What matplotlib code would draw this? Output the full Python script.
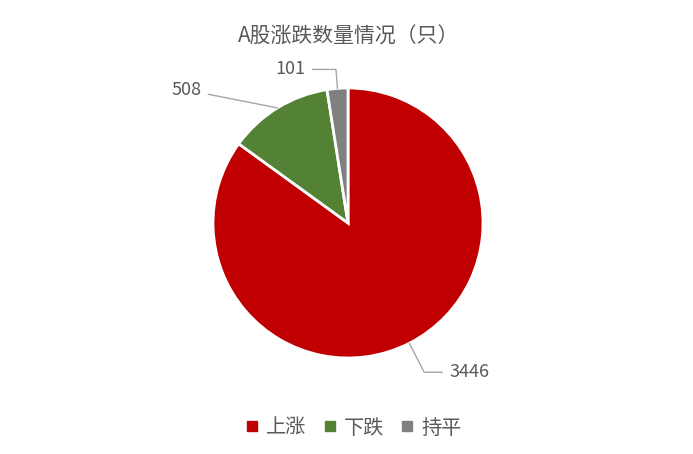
import matplotlib
matplotlib.use("Agg")
import matplotlib.pyplot as plt
import numpy as np

plt.rcParams['font.family'] = ['Noto Sans CJK SC', 'DejaVu Sans']

title = "A股涨跌数量情况（只）"
categories = ["上涨", "下跌", "持平"]
counts = [3446, 508, 101]
colors = ["#C00000", "#548235", "#808080"]

# label offsets in pixels from the wedge edge point, and leader style
label_offsets = [(40, -29), (-76, 18), (-32, 19)]
label_conn = ["angle,angleA=0,angleB={}", "arc3,rad=0", "angle,angleA=0,angleB={}"]
label_ha = ["left", "right", "right"]

W, H = 693, 454
fig = plt.figure(figsize=(W / 100, H / 100), dpi=100)
# pie centre (348, 223) px, radius 135 px
cx, cy, r = 348, 223, 135
ax = fig.add_axes([(cx - r) / W, (H - cy - r) / H, 2 * r / W, 2 * r / H])

wedges, _ = ax.pie(counts, colors=colors, startangle=90, counterclock=False,
                   radius=1, wedgeprops=dict(edgecolor="white", linewidth=2))
ax.set_xlim(-1, 1)
ax.set_ylim(-1, 1)
ax.set_aspect("equal")
ax.axis("off")

for w, n, off, conn, ha in zip(wedges, counts, label_offsets, label_conn, label_ha):
    mid = np.deg2rad((w.theta1 + w.theta2) / 2)
    x, y = np.cos(mid), np.sin(mid)
    cs = conn.format(np.rad2deg(mid)) if "{}" in conn else conn
    ax.annotate(str(n), xy=(x, y), xytext=off, textcoords="offset pixels",
                ha=ha, va="center", fontsize=13, color="#595959",
                arrowprops=dict(arrowstyle="-", color="#A6A6A6", lw=1,
                                connectionstyle=cs, shrinkA=3, shrinkB=0))

fig.text(349 / W, 1 - 37 / H, title, ha="center", va="center", fontsize=15, color="#595959")

handles = [plt.Line2D([], [], marker="s", linestyle="none", markersize=7,
                      markerfacecolor=c, markeredgecolor=c) for c in colors]
fig.legend(handles, categories, loc="center", bbox_to_anchor=(353 / W, 1 - 428 / H),
           ncol=3, frameon=False, fontsize=14.5, labelcolor="#595959",
           handletextpad=0.3, columnspacing=0.75, handlelength=0.8)

fig.savefig("out.png", dpi=100, facecolor="white")
